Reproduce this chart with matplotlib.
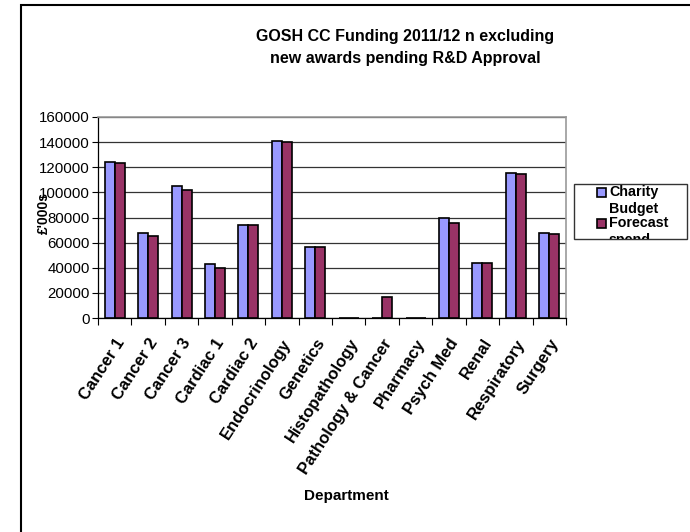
import matplotlib.pyplot as plt
import numpy as np
from matplotlib.patches import Rectangle

plt.rcParams['font.family'] = ['Liberation Sans', 'DejaVu Sans']

# data (£'000s)
departments = ['Cancer 1', 'Cancer 2', 'Cancer 3', 'Cardiac 1', 'Cardiac 2', 'Endocrinology',
               'Genetics', 'Histopathology', 'Pathology & Cancer', 'Pharmacy', 'Psych Med',
               'Renal', 'Respiratory', 'Surgery']
charity_budget = [124500, 68000, 105200, 43000, 73900, 141000, 56300, 0, 0, 0, 79900, 44000, 115300, 68000]
forecast_spend = [123000, 65100, 102000, 40100, 73900, 140000, 56300, 0, 17000, 0, 76000, 44000, 115000, 67000]

color_budget = '#9999FF'
color_forecast = '#993366'

W, H = 690, 532
fig = plt.figure(figsize=(W / 100, H / 100), dpi=100)

def fx(px):
    return px / W

def fy(py):
    return 1 - py / H

# plot area
ax = fig.add_axes([fx(98), fy(318), fx(566) - fx(98), fy(117) - fy(318)])

x = np.arange(len(departments))
bw = 0.3
ax.bar(x - bw / 2, charity_budget, width=bw, color=color_budget, edgecolor='black', linewidth=1.2, zorder=3)
ax.bar(x + bw / 2, forecast_spend, width=bw, color=color_forecast, edgecolor='black', linewidth=1.2, zorder=3)

ax.set_xlim(-0.5, len(departments) - 0.5)
ax.set_ylim(0, 160000)
ax.set_yticks(range(0, 160001, 20000))
ax.tick_params(axis='y', labelsize=10.8, length=4, width=0.8, pad=2)
ax.yaxis.grid(True, color='#333333', linewidth=0.9, zorder=0)

# tick marks sit between categories, labels at category centres
ax.set_xticks(np.arange(-0.5, len(departments) + 0.5, 1))
ax.set_xticklabels([])
ax.tick_params(axis='x', length=5, width=0.8)
ax.set_xticks(x, minor=True)
ax.set_xticklabels(departments, minor=True, rotation=57, ha='right', rotation_mode='anchor',
                   fontsize=12, fontweight='bold')
ax.tick_params(axis='x', which='minor', length=0, pad=13)

for side in ['top', 'right']:
    ax.spines[side].set_color('#999999')
    ax.spines[side].set_linewidth(1.2)
for side in ['left', 'bottom']:
    ax.spines[side].set_color('black')
    ax.spines[side].set_linewidth(0.9)

# titles
fig.text(fx(405), fy(37), 'GOSH CC Funding 2011/12 n excluding', ha='center', va='center',
         fontsize=11.5, fontweight='bold')
fig.text(fx(405), fy(58), 'new awards pending R&D Approval', ha='center', va='center',
         fontsize=11.5, fontweight='bold')
fig.text(fx(44), fy(213), "£'000s", rotation=90, ha='center', va='center', fontsize=10, fontweight='bold')
fig.text(fx(346), fy(496), 'Department', ha='center', va='center', fontsize=11, fontweight='bold')

# legend box with wrapped, clipped labels
box = Rectangle((fx(574), fy(239)), fx(687) - fx(574), fy(184) - fy(239), transform=fig.transFigure,
                facecolor='white', edgecolor='#333333', linewidth=1.0)
fig.patches.append(box)
for color, label, top in [(color_budget, 'Charity\nBudget', 188), (color_forecast, 'Forecast\nspend', 219)]:
    fig.patches.append(Rectangle((fx(597), fy(top + 9)), fx(9), fy(0) - fy(9), transform=fig.transFigure,
                                 facecolor=color, edgecolor='black', linewidth=1.2))
    t = fig.text(fx(609), fy(top - 3), label, ha='left', va='top', fontsize=10.3, fontweight='bold',
                 linespacing=1.25)
    t.set_clip_path(box)

# outer chart border
fig.patches.append(Rectangle((fx(21), fy(H + 10)), fx(W + 10), fy(5) - fy(H + 10), transform=fig.transFigure,
                             facecolor='none', edgecolor='black', linewidth=1.5))

fig.savefig('out.png', dpi=100)
